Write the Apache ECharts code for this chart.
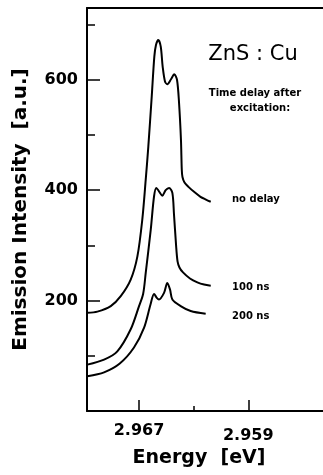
<!DOCTYPE html>
<html>
<head>
<meta charset="utf-8">
<script src="https://cdn.jsdelivr.net/npm/echarts@6/dist/echarts.min.js"></script>
<style>
html,body{margin:0;padding:0;background:#fff;}
#c{width:323px;height:475px;}
</style>
</head>
<body>
<div id="c"></div>
<script>
// ---- data ----
const xTickValues = [2.967, 2.959];
const xMinorTickValues = [2.963];
const yTickValues = [200, 400, 600];
const yMinorTickValues = [100, 300, 500, 700];
const xMin = 2.95353, xMax = 2.97081;
const yMin = 0, yMax = 730;

const energyNoDelay = [2.97078, 2.97005, 2.96907, 2.96834, 2.96761, 2.96712, 2.96676, 2.96651, 2.96632, 2.96607, 2.96588, 2.96576, 2.96559, 2.96541, 2.96527, 2.96510, 2.96493, 2.96466, 2.96442, 2.96422, 2.96407, 2.96393, 2.96387, 2.96382, 2.96367, 2.96338, 2.96297, 2.96250, 2.96210, 2.96175];
const intensityNoDelay = [178, 180, 190, 208, 238, 280, 347, 419, 479, 570, 642, 663, 672, 660, 624, 597, 592, 601, 610, 600, 558, 491, 437, 424, 414, 406, 397, 388, 383, 379];

const energy100ns = [2.97078, 2.96956, 2.96859, 2.96761, 2.96700, 2.96670, 2.96651, 2.96614, 2.96590, 2.96573, 2.96554, 2.96529, 2.96505, 2.96480, 2.96456, 2.96444, 2.96429, 2.96418, 2.96404, 2.96378, 2.96327, 2.96273, 2.96224, 2.96175];
const intensity100ns = [84, 93, 108, 148, 190, 212, 250, 329, 389, 404, 398, 390, 400, 404, 395, 356, 301, 271, 260, 251, 240, 233, 229, 227];

const energy200ns = [2.97078, 2.96956, 2.96841, 2.96737, 2.96663, 2.96616, 2.96590, 2.96570, 2.96554, 2.96517, 2.96493, 2.96473, 2.96456, 2.96395, 2.96322, 2.96212];
const intensity200ns = [63, 70, 86, 115, 151, 193, 212, 205, 202, 214, 232, 220, 202, 190, 181, 176];

const labelNoDelay = 'no delay', label100 = '100 ns', label200 = '200 ns';

// ---- chart ----
const F = 'DejaVu Sans';
function pairs(xs, ys) { return xs.map((x, i) => [x, ys[i]]); }
const chart = echarts.init(document.getElementById('c'), null, { renderer: 'canvas' });

function curve(name, xs, ys) {
  return {
    type: 'line', name: name, data: pairs(xs, ys),
    showSymbol: false, smooth: 0.3,
    lineStyle: { color: '#000', width: 2 }, itemStyle: { color: '#000' },
    xAxisIndex: 0, yAxisIndex: 0, z: 5
  };
}

const baseX = { type: 'value', inverse: true, min: xMin, max: xMax, splitLine: { show: false } };
const baseY = { type: 'value', min: yMin, max: yMax, splitLine: { show: false } };

const option = {
  animation: false,
  backgroundColor: '#fff',
  grid: { left: 87, right: 0, top: 8, bottom: 64 },
  xAxis: [
    Object.assign({}, baseX, {
      position: 'bottom',
      axisLine: { show: true, lineStyle: { color: '#000', width: 2 } },
      axisTick: { show: true, inside: true, length: 11, customValues: xTickValues, lineStyle: { color: '#000', width: 1.5 } },
      axisLabel: {
        customValues: xTickValues, margin: 12, color: '#000', fontFamily: F, fontWeight: 'bold', fontSize: 16,
        formatter: v => (v < 2.963 ? '{b|' : '{a|') + v.toFixed(3) + '}',
        rich: {
          a: { color: '#000', fontFamily: F, fontWeight: 'bold', fontSize: 16 },
          b: { color: '#000', fontFamily: F, fontWeight: 'bold', fontSize: 16, padding: [5, 0, 0, 0] }
        }
      },
      name: 'Energy  [eV]', nameLocation: 'middle', nameGap: 37,
      nameTextStyle: { color: '#000', fontFamily: F, fontWeight: 'bold', fontSize: 19, padding: [0, 12, 0, 0] }
    }),
    Object.assign({}, baseX, {
      position: 'bottom',
      axisLine: { show: false },
      axisTick: { show: true, inside: true, length: 5, customValues: xMinorTickValues, lineStyle: { color: '#000', width: 1.5 } },
      axisLabel: { show: false }
    }),
    Object.assign({}, baseX, {
      position: 'top',
      axisLine: { show: true, lineStyle: { color: '#000', width: 2 } },
      axisTick: { show: false },
      axisLabel: { show: false }
    })
  ],
  yAxis: [
    Object.assign({}, baseY, {
      position: 'left',
      axisLine: { show: true, lineStyle: { color: '#000', width: 2 } },
      axisTick: { show: true, inside: true, length: 13, customValues: yTickValues, lineStyle: { color: '#000', width: 1.5 } },
      axisLabel: { customValues: yTickValues, margin: 9, color: '#000', fontFamily: F, fontWeight: 'bold', fontSize: 16 },
      name: 'Emission Intensity  [a.u.]', nameLocation: 'middle', nameGap: 56, nameRotate: 90,
      nameTextStyle: { color: '#000', fontFamily: F, fontWeight: 'bold', fontSize: 20 }
    }),
    Object.assign({}, baseY, {
      position: 'left',
      axisLine: { show: false },
      axisTick: { show: true, inside: true, length: 8, customValues: yMinorTickValues, lineStyle: { color: '#000', width: 1.5 } },
      axisLabel: { show: false }
    })
  ],
  graphic: [
    { type: 'text', x: 253, y: 55, style: { text: 'ZnS : Cu', font: '21px "DejaVu Sans"', fill: '#000', align: 'center', verticalAlign: 'middle' } },
    { type: 'text', x: 255, y: 93, style: { text: 'Time delay after', font: 'bold 10px "DejaVu Sans"', fill: '#000', align: 'center', verticalAlign: 'middle' } },
    { type: 'text', x: 260, y: 108, style: { text: 'excitation:', font: 'bold 10px "DejaVu Sans"', fill: '#000', align: 'center', verticalAlign: 'middle' } },
    { type: 'text', x: 232, y: 199, style: { text: labelNoDelay, font: 'bold 10px "DejaVu Sans"', fill: '#000', align: 'left', verticalAlign: 'middle' } },
    { type: 'text', x: 232, y: 287, style: { text: label100, font: 'bold 10px "DejaVu Sans"', fill: '#000', align: 'left', verticalAlign: 'middle' } },
    { type: 'text', x: 232, y: 316, style: { text: label200, font: 'bold 10px "DejaVu Sans"', fill: '#000', align: 'left', verticalAlign: 'middle' } }
  ],
  series: [
    curve(labelNoDelay, energyNoDelay, intensityNoDelay),
    curve(label100, energy100ns, intensity100ns),
    curve(label200, energy200ns, intensity200ns)
  ]
};
chart.setOption(option);
</script>
</body>
</html>
